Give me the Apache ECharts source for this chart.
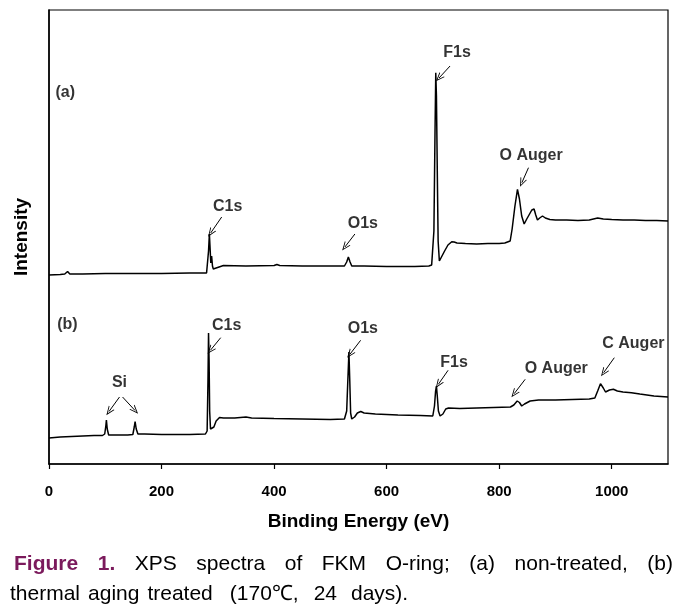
<!DOCTYPE html>
<html>
<head>
<meta charset="utf-8">
<script src="https://cdn.jsdelivr.net/npm/echarts@6/dist/echarts.min.js"></script>
<style>
html,body{margin:0;padding:0;background:#fff;}
#chart{width:693px;height:614px;}
</style>
</head>
<body>
<div id="chart"></div>
<script>
// ---- Data (binding energy in eV, intensity in arbitrary units) ----
const beA = [0,20,28,33,37,60,100,150,200,250,280,282,283.5,285,286.5,287.5,289,290.5,292,294,297,300,310,350,400,405,410,450,500,525,529,532,535,538,560,600,650,675,680,682,684,686,687.3,688.5,690,691.5,693.7,697,703,709,715.7,720,725,740,760,780,800,810,819.5,823,828,832.5,836,840,844.4,849,854,858,862,865,868,872,877,882,890,900,920,940,960,975,985,1000,1020,1040,1060,1080,1100];
const intensityA = [189,189.5,190,192.5,190,190,190.5,190.5,190.5,191,191,192,213,230,213,201,208,198,195,193,196,198,198.5,198,198.5,199.5,198.5,198,198,198,202,207,202,198,198,197.5,197.5,198,199,200.3,233,333,391.3,368,293,223,203,205,213,219,222.3,222,221,220.5,220,220.5,220.5,221,223,235,258,274.7,265,248,240,245,250,254,255,249,244,246,248,246,244.5,244,244,243.5,244,246,245,244.5,244,244,243.5,243.5,243];

const beB = [0,10,20,40,60,80,95,99,101,102,103.5,106,120,140,149,151.5,153,155,158,170,200,250,278,281,282.5,283.5,284.5,285.5,287,290,293,297,303,310,330,350,360,400,450,500,525,529,531,533,534.5,536,538,543,548,554,560,580,620,660,682,685,687,688.5,690,692,695,700,705,710,730,760,790,820,826,832,836,840,845,855,870,900,930,960,970,975,980,985,989,996,1003,1010,1020,1035,1050,1075,1100];
const intensityB = [26,26.5,27,27.5,28,28.5,28.5,30,38,44,35,29,29,29,29.5,37,42.3,35,30,30,29.5,29.5,30,33,83,131,103,53,35,33.5,37,43,46.5,46,46,47,46,45.5,45,44.5,45,53,83,112,83,51,45,47,51,52.5,51,50,49,48.5,48,58,73,78,68,53,48,50,55,56,55.5,56,56.5,57,59,63,61.5,58,60,63,64,64,64.5,65,66,73,80.3,76,72,74,74.7,73,72,71.3,70,68,67];

// peak annotations: text and its centre (eV, intensity)
const labelText = ['(a)','C1s','O1s','F1s','O Auger','(b)','Si','C1s','O1s','F1s','O Auger','C Auger'];
const labelX    = [29, 317.6, 557.8, 725.2, 856.8, 32.8, 125.3, 315.8, 557.8, 719.8, 901.4, 1038.5];
const labelY    = [371, 257, 240, 411, 308, 139, 81, 138, 135, 101, 95, 120];

// arrows: start (eV, intensity) -> end (eV, intensity)
const arrowFrom = [[306.9,247],[543.6,230],[712.7,398],[852.1,296.3],[125.3,67],[130.7,67],[305.1,126.3],[553.8,123.7],[709.2,93.7],[846.2,84.7],[1004.6,106.3]];
const arrowTo   = [[287.3,231],[525.8,217],[693.1,386],[840.3,281.3],[106.6,52.5],[152.9,53.5],[286.8,113.7],[534.7,109.7],[691.9,79.7],[826.6,70.3],[985.6,91.3]];

const xTickInterval = 200;
const captionLine1 = ['Figure','1.','XPS','spectra','of','FKM','O-ring;','(a)','non-treated,','(b)'];
const captionLine2 = ['thermal','aging','treated','(170\u2103,','24','days).'];

// ---- build ----
const FONT = '"Liberation Sans", Arial, Helvetica, sans-serif';
const chart = echarts.init(document.getElementById('chart'), null, {renderer:'canvas'});

const seriesA = beA.map((x,i)=>[x,intensityA[i]]);
const seriesB = beB.map((x,i)=>[x,intensityB[i]]);
const labels = labelText.map((t,i)=>[labelX[i],labelY[i],t]);
const arrows = arrowFrom.map((f,i)=>[{coord:f},{coord:arrowTo[i]}]);

// caption layout (justified first line)
const cv = document.createElement('canvas').getContext('2d');
function w(text, font){ cv.font = font; return cv.measureText(text).width; }
const capSize = 21;
const fontBold = 'bold ' + capSize + 'px ' + FONT;
const fontNorm = capSize + 'px ' + FONT;
const graphics = [];
(function(){
  const left = 14, right = 673;
  const fonts1 = captionLine1.map((t,i)=> i<2 ? fontBold : fontNorm);
  const widths1 = captionLine1.map((t,i)=>w(t,fonts1[i]));
  const total1 = widths1.reduce((a,b)=>a+b,0);
  const gap1 = (right-left-total1)/(captionLine1.length-1);
  let x = left;
  captionLine1.forEach((t,i)=>{
    graphics.push({type:'text', left:x, top:554, silent:true,
      style:{text:t, font:fonts1[i], fill: i<2 ? '#7b1a5c' : '#000'}});
    x += widths1[i] + gap1;
  });
  const gaps2 = [8,8,17,15,14];
  x = 10;
  captionLine2.forEach((t,i)=>{
    graphics.push({type:'text', left:x, top:584, silent:true,
      style:{text:t, font:fontNorm, fill:'#000'}});
    x += w(t,fontNorm) + (gaps2[i]||0);
  });
})();

const option = {
  animation:false,
  backgroundColor:'#fff',
  grid:{left:49, right:25, top:10, bottom:150, show:true, borderColor:'#000', borderWidth:1.2, backgroundColor:'transparent'},
  xAxis:{
    type:'value', min:0, max:1100, interval:xTickInterval,
    axisLine:{show:true, onZero:false, lineStyle:{color:'#000', width:1.5}},
    axisTick:{show:true, inside:false, length:5, lineStyle:{color:'#000', width:1.2}},
    axisLabel:{color:'#000', fontWeight:'bold', fontSize:15, fontFamily:FONT, margin:20, showMaxLabel:false,
      formatter:(v)=>String(v)},
    splitLine:{show:false},
    name:'Binding Energy (eV)', nameLocation:'middle', nameGap:48,
    nameTextStyle:{color:'#000', fontWeight:'bold', fontSize:19, fontFamily:FONT}
  },
  yAxis:{
    type:'value', min:0, max:454,
    axisLine:{show:true, lineStyle:{color:'#000', width:1.5}},
    axisTick:{show:false}, axisLabel:{show:false}, splitLine:{show:false},
    name:'Intensity', nameLocation:'middle', nameGap:18, nameRotate:90,
    nameTextStyle:{color:'#000', fontWeight:'bold', fontSize:19, fontFamily:FONT}
  },
  series:[
    {type:'line', data:seriesA, symbol:'none', lineStyle:{color:'#000', width:1.5}, z:3},
    {type:'line', data:seriesB, symbol:'none', lineStyle:{color:'#000', width:1.5}, z:3},
    {type:'scatter', data:labels, symbolSize:0, silent:true, z:4,
      label:{show:true, position:'inside', formatter:(p)=>p.data[2], color:'#000', fontWeight:'bold', fontSize:16, fontFamily:FONT},
      markLine:{silent:true, animation:false, symbol:['none','path://M5,0 L0,10 L1.3,10 L5,2.6 L8.7,10 L10,10 Z'], symbolSize:[7,9],
        label:{show:false}, lineStyle:{color:'#000', width:1, type:'solid'}, emphasis:{disabled:true}, data:arrows}
    }
  ],
  graphic:graphics
};
chart.setOption(option);
</script>
</body>
</html>
